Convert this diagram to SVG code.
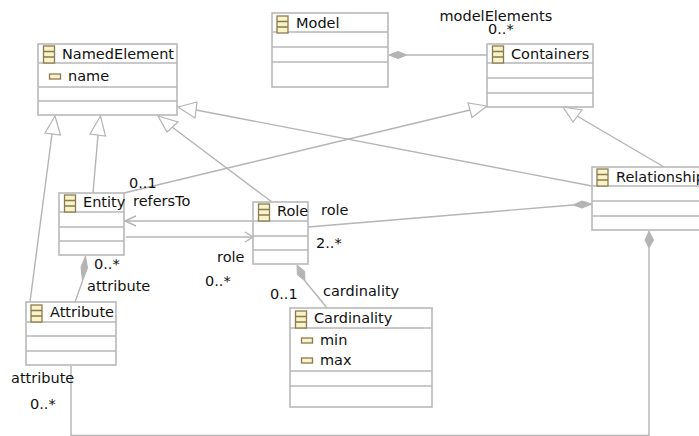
<svg xmlns="http://www.w3.org/2000/svg" width="699" height="436" viewBox="0 0 699 436">
<style>
text{font-family:"DejaVu Sans",sans-serif;font-size:14.5px;fill:#111}
.b{fill:#fff;stroke:#b8b8b8;stroke-width:1.6}
.l{stroke:#b8b8b8;stroke-width:1.6;fill:none}
.c{stroke:#b4b4b4;stroke-width:1.4;fill:none}
.t{fill:#fff;stroke:#b4b4b4;stroke-width:1.2}
.d{fill:#b4b4b4;stroke:#b4b4b4;stroke-width:1}
.i{fill:#f8f4c8;stroke:#8a7a50;stroke-width:1.3}
</style>
<defs>
<g id="ci"><rect class="i" x="0" y="0" width="11" height="17"/><path class="i" d="M0 5.500H11M0 11H11"/></g>
<g id="ai"><rect class="i" x="0" y="0" width="11" height="5"/></g>
</defs>
<g id="connectors">
<path class="c" d="M407 55H487"/><polygon class="d" points="389,55 398,51.500 407,55 398,58.500"/>
<path class="c" d="M30 302L52 134"/><polygon class="t" points="55,116 45,133 60.500,135"/>
<path class="c" d="M93 193L98 135"/><polygon class="t" points="100.500,116 90,134 105.500,136"/>
<path class="c" d="M272 202L172 127"/><polygon class="t" points="158,116 167,132 178,122"/>
<path class="c" d="M592 186L196 110"/><polygon class="t" points="178,107 197,102 195,118"/>
<path class="c" d="M124 193L470 110"/><polygon class="t" points="487,106 468,103 472,117.500"/>
<path class="c" d="M664 167L577 116"/><polygon class="t" points="563,107 582,110 573,122"/>
<path class="c" d="M253 221H125"/><path class="c" d="M136 216L125 221L136 226"/>
<path class="c" d="M126 237H253"/><path class="c" d="M245 232L253 237L245 242"/>
<path class="c" d="M308 227L573 205"/><polygon class="d" points="592,204 582,208 573,205 582,201"/>
<path class="c" d="M75 302L82.500 281"/><polygon class="d" points="85.500,256 87.500,268 82.500,281 81,267"/>
<path class="c" d="M327 308L305 281"/><polygon class="d" points="297,265 304.600,271.200 305,281 297.400,274.800"/>
<path class="c" d="M71 366V435.500H649V248"/><polygon class="d" points="649,231 653.500,240 649,248 645,240"/>
</g>
<g id="NamedElement"><rect class="b" x="38" y="44" width="139" height="71"/><path class="l" d="M38 63H177M38 87H177M38 101H177"/><use href="#ci" x="43.500" y="46"/><text x="62" y="59">NamedElement</text><use href="#ai" x="49.500" y="74"/><text x="68" y="81">name</text></g>
<g id="Model"><rect class="b" x="272" y="13" width="116" height="74"/><path class="l" d="M272 32H388M272 47H388M272 62H388"/><use href="#ci" x="277" y="16"/><text x="296" y="28">Model</text></g>
<g id="Containers"><rect class="b" x="487" y="44" width="106" height="63"/><path class="l" d="M487 63H593M487 78H593M487 93H593"/><use href="#ci" x="492.500" y="46"/><text x="511" y="59">Containers</text></g>
<g id="Entity"><rect class="b" x="59" y="193" width="65" height="62"/><path class="l" d="M59 212H124M59 227H124M59 241H124"/><use href="#ci" x="64.500" y="195"/><text x="83" y="207">Entity</text></g>
<g id="Role"><rect class="b" x="253" y="202" width="55" height="62"/><path class="l" d="M253 221H308M253 236H308M253 250H308"/><use href="#ci" x="258.500" y="204"/><text x="277" y="216">Role</text></g>
<g id="Attribute"><rect class="b" x="26" y="302" width="90" height="63"/><path class="l" d="M26 322H116M26 336H116M26 351H116"/><use href="#ci" x="31" y="305"/><text x="50" y="317">Attribute</text></g>
<g id="Cardinality"><rect class="b" x="290" y="308" width="142" height="99"/><path class="l" d="M290 328H432M290 371H432M290 386H432"/><use href="#ci" x="295.500" y="311"/><text x="314" y="323">Cardinality</text><use href="#ai" x="301.500" y="338"/><text x="320" y="345">min</text><use href="#ai" x="301.500" y="358"/><text x="320" y="365">max</text></g>
<g id="Relationship"><rect class="b" x="592" y="167" width="120" height="63"/><path class="l" d="M592 186H712M592 201H712M592 216H712"/><use href="#ci" x="597" y="169"/><text x="616" y="182">Relationship</text></g>
<g id="labels">
<text x="439.500" y="21">modelElements</text><text x="488" y="34">0..*</text>
<text x="129" y="188">0..1</text><text x="133" y="206">refersTo</text>
<text x="321" y="215">role</text><text x="316" y="248">2..*</text>
<text x="217" y="262">role</text><text x="205" y="286">0..*</text>
<text x="94" y="269">0..*</text><text x="87" y="291">attribute</text>
<text x="270" y="299">0..1</text><text x="323" y="296">cardinality</text>
<text x="11" y="383">attribute</text><text x="30" y="409">0..*</text>
</g>
</svg>
